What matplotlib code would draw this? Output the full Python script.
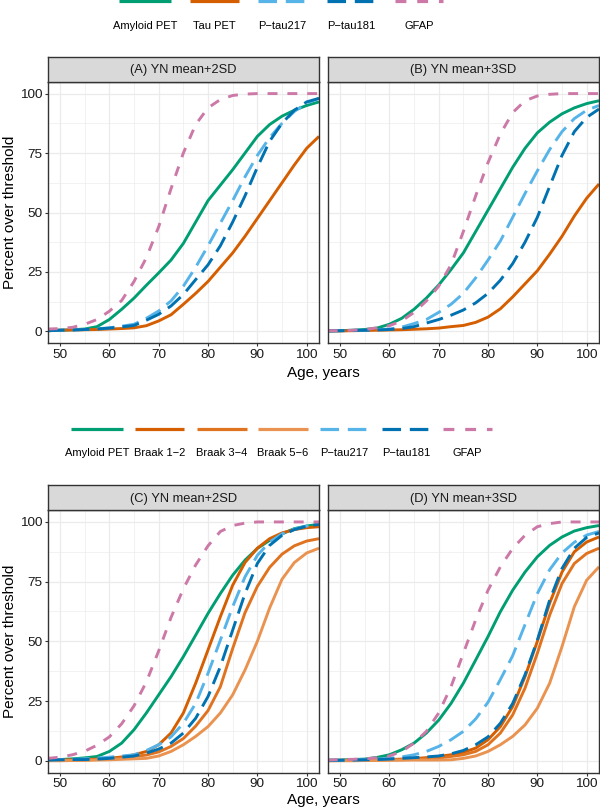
import numpy as np
import matplotlib
matplotlib.use("Agg")
import matplotlib.pyplot as plt
from matplotlib.lines import Line2D

plt.rcParams['font.family'] = ['Liberation Sans', 'DejaVu Sans']

ages = [47.5, 50, 52.5, 55, 57.5, 60, 62.5, 65, 67.5, 70, 72.5, 75, 77.5,
        80, 82.5, 85, 87.5, 90, 92.5, 95, 97.5, 100, 102.5]

# ---- (A) YN mean+2SD ----
amyloid_a = [0.3, 0.5, 0.7, 1.0, 2.0, 5.0, 9.3, 14, 19.4, 24.6, 30, 37, 46,
             55, 61.5, 68, 75, 82, 87, 90.5, 93, 95, 96.5]
tau_a = [0.3, 0.5, 0.6, 0.7, 0.8, 1.0, 1.2, 1.5, 2.4, 4.4, 7, 11.4, 16,
         21, 27, 33, 40, 47.5, 55, 62.5, 70, 77, 82]
ptau217_a = [0.3, 0.5, 0.6, 0.8, 1.1, 1.5, 2.2, 3.0, 5.5, 8.6, 12.8, 19, 27,
             36, 45.5, 55, 65, 74, 81.5, 87.5, 92.5, 96, 98]
ptau181_a = [0.3, 0.5, 0.6, 0.8, 1.0, 1.4, 1.9, 2.5, 4.7, 7.2, 10.7, 15.5, 21.8,
             28, 36, 46, 57, 69, 80, 87.5, 93, 96.5, 98]
gfap_a = [1.0, 1.2, 1.7, 3.0, 5.0, 8.5, 13, 21, 31, 44, 60, 75, 87,
          94, 97.5, 99.2, 99.8, 100, 100, 100, 100, 100, 100]

# ---- (B) YN mean+3SD ----
amyloid_b = [0.2, 0.3, 0.5, 0.8, 1.4, 3.0, 5.5, 9.3, 14, 19.5, 26, 33, 42,
             51, 60, 69, 77, 83.5, 88, 91.5, 94, 95.8, 97]
tau_b = [0.2, 0.2, 0.3, 0.4, 0.5, 0.6, 0.7, 0.9, 1.1, 1.4, 2.0, 2.5, 3.8,
         6.0, 9.5, 14.5, 20, 25.5, 32.5, 40, 48.5, 56, 62]
ptau217_b = [0.2, 0.3, 0.4, 0.5, 0.7, 1.0, 1.8, 3.3, 5, 8, 11.4, 16, 22.5,
             30, 38, 48, 58, 67.5, 76.5, 84, 89.5, 93, 95]
ptau181_b = [0.2, 0.3, 0.4, 0.5, 0.6, 0.8, 1.2, 2.0, 3.5, 5, 6.8, 9, 12,
             16, 21.5, 28.5, 37.5, 48, 61, 74, 84, 90, 93.5]
gfap_b = [0.3, 0.3, 0.5, 0.8, 1.5, 2.4, 4.4, 8, 12.8, 19, 28, 42, 57,
          71, 83, 92, 97, 99, 99.7, 100, 100, 100, 100]

# ---- (C) YN mean+2SD ----
amyloid_c = [0.3, 0.5, 0.8, 1.2, 1.8, 3.9, 7.4, 13, 20, 27.6, 35.2, 43.6, 52.6,
             61.7, 70, 77.7, 84, 88.9, 92.3, 95, 97.2, 98.3, 99]
braak12_c = [0.2, 0.3, 0.4, 0.5, 0.7, 1.0, 1.6, 2.5, 3.9, 6.7, 11.6, 20, 32.5,
             46.4, 60.3, 73.5, 83, 89, 93, 95.4, 96.8, 97.6, 98]
braak34_c = [0.1, 0.1, 0.2, 0.3, 0.5, 0.8, 1.2, 1.8, 2.4, 3.7, 6.0, 9.3, 14.5,
             21, 31, 47, 62, 73, 81, 86.5, 90, 92, 93]
braak56_c = [0.0, 0.0, 0.1, 0.2, 0.3, 0.4, 0.6, 0.8, 1.0, 2.0, 3.9, 6.7, 10.2,
             14.3, 20, 27.6, 38, 50, 64, 76, 83, 87, 89]
ptau217_c = [0.3, 0.5, 0.6, 0.8, 1.1, 1.5, 2.0, 2.5, 4.3, 6.7, 10, 15.7, 24,
             36.6, 50.5, 64.5, 77, 86, 91.6, 95, 97, 98.3, 99]
ptau181_c = [0.3, 0.4, 0.5, 0.5, 0.7, 1.0, 1.5, 2.0, 3.2, 4.9, 7.4, 11.6, 17.8,
             26.9, 39.4, 54.7, 70, 82.6, 90.2, 94.4, 96.8, 98.2, 99]
gfap_c = [1.0, 1.5, 2.5, 4.0, 6.5, 10, 15.5, 23, 33, 46, 60, 72, 82,
          90, 96, 98.5, 99.5, 100, 100, 100, 100, 100, 100]

# ---- (D) YN mean+3SD ----
amyloid_d = [0.2, 0.3, 0.5, 0.7, 1.4, 2.5, 4.6, 7.4, 11.6, 17, 24, 32.5, 42.2,
             52, 62.4, 71.4, 79, 85.4, 90.2, 93.7, 96.2, 97.6, 98.5]
braak12_d = [0.1, 0.2, 0.2, 0.3, 0.4, 0.5, 0.7, 0.9, 1.3, 1.8, 2.5, 3.5, 5.3,
             8.8, 14.3, 22.7, 35.2, 50, 66, 79, 87.5, 91.6, 93.7]
braak34_d = [0.0, 0.1, 0.1, 0.2, 0.3, 0.4, 0.5, 0.6, 0.8, 1.2, 1.8, 2.5, 3.9,
             6.7, 11.6, 19.2, 30.4, 45, 61, 74.2, 82.6, 86.8, 89]
braak56_d = [0.0, 0.0, 0.0, 0.1, 0.1, 0.2, 0.2, 0.3, 0.3, 0.3, 0.4, 1.0, 2.0,
             3.9, 6.7, 10.2, 15, 22, 32.5, 47.8, 64.5, 75.6, 81.2]
ptau217_d = [0.2, 0.2, 0.3, 0.5, 0.7, 1.0, 1.6, 2.5, 3.9, 6.0, 8.8, 12.3, 17.5,
             24.5, 34, 44, 57, 70, 80, 87, 91.5, 94.5, 96]
ptau181_d = [0.2, 0.2, 0.3, 0.4, 0.5, 0.7, 1.0, 1.3, 1.6, 2.0, 2.9, 4.3, 6.7,
             10, 15.7, 24, 36, 50.5, 67.3, 80.5, 89, 93.5, 95.4]
gfap_d = [0.3, 0.5, 0.6, 0.8, 1.3, 2.0, 3.9, 7.4, 12.3, 20, 31, 45, 59,
          71.4, 81.2, 88.9, 94.4, 98, 99.3, 100, 100, 100, 100]

# line styles per marker
GREEN, VERM, ORANGE, LORANGE = '#009E73', '#D55E00', '#E0731F', '#EA9350'
SKY, BLUE, PINK = '#56B4E9', '#0072B2', '#CC79A7'
LW = 2.1
LONG = (5.8, 2.75)
DASH = (3.4, 3.4)
styles = {
    'Amyloid PET': (GREEN, None),
    'Tau PET': (VERM, None),
    'Braak 1\u22122': (VERM, None),
    'Braak 3\u22124': (ORANGE, None),
    'Braak 5\u22126': (LORANGE, None),
    'P\u2212tau217': (SKY, LONG),
    'P\u2212tau181': (BLUE, LONG),
    'GFAP': (PINK, DASH),
}

top_names = ['Amyloid PET', 'Tau PET', 'P\u2212tau217', 'P\u2212tau181', 'GFAP']
bot_names = ['Amyloid PET', 'Braak 1\u22122', 'Braak 3\u22124', 'Braak 5\u22126',
             'P\u2212tau217', 'P\u2212tau181', 'GFAP']

panels = [
    ('(A) YN mean+2SD', top_names, [amyloid_a, tau_a, ptau217_a, ptau181_a, gfap_a]),
    ('(B) YN mean+3SD', top_names, [amyloid_b, tau_b, ptau217_b, ptau181_b, gfap_b]),
    ('(C) YN mean+2SD', bot_names, [amyloid_c, braak12_c, braak34_c, braak56_c,
                                    ptau217_c, ptau181_c, gfap_c]),
    ('(D) YN mean+3SD', bot_names, [amyloid_d, braak12_d, braak34_d, braak56_d,
                                    ptau217_d, ptau181_d, gfap_d]),
]

W, H = 600, 811
fig = plt.figure(figsize=(W / 100, H / 100), dpi=100)


def px(x0, y0, x1, y1):
    # pixel box -> figure fraction rect
    return [x0 / W, 1 - y1 / H, (x1 - x0) / W, (y1 - y0) / H]


boxes = [
    (47.7, 81.7, 319, 343.3),
    (327.7, 81.7, 599, 343.3),
    (47.7, 510, 319, 772.7),
    (327.7, 510, 599, 772.7),
]

for i, ((title, names, series), (x0, y0, x1, y1)) in enumerate(zip(panels, boxes)):
    ax = fig.add_axes(px(x0, y0, x1, y1))
    for name, vals in zip(names, series):
        col, dashes = styles[name]
        if dashes is None:
            ax.plot(ages, vals, color=col, lw=LW, solid_capstyle='butt')
        else:
            ax.plot(ages, vals, color=col, lw=LW, dashes=dashes, dash_capstyle='butt')
    ax.set_xlim(47.5, 102.5)
    ax.set_ylim(-5, 105)
    ax.set_xticks([50, 60, 70, 80, 90, 100])
    ax.set_xticks([55, 65, 75, 85, 95], minor=True)
    ax.set_yticks([0, 25, 50, 75, 100])
    ax.set_yticks([12.5, 37.5, 62.5, 87.5], minor=True)
    ax.grid(which='major', color='#EBEBEB', lw=0.9)
    ax.grid(which='minor', color='#EBEBEB', lw=0.45)
    ax.set_axisbelow(True)
    for s in ax.spines.values():
        s.set_color('#333333')
        s.set_linewidth(1.0)
    ax.tick_params(which='major', length=2.5, width=0.8, color='#333333',
                   labelsize=9.7, labelcolor='#1A1A1A', pad=1.5)
    ax.tick_params(which='minor', length=0)
    if i % 2 == 1:
        ax.tick_params(axis='y', which='major', length=0, labelleft=False)
    # facet strip
    sax = fig.add_axes(px(x0, y0 - 25, x1, y0))
    sax.set_facecolor('#D9D9D9')
    sax.set_xticks([])
    sax.set_yticks([])
    for s in sax.spines.values():
        s.set_color('#333333')
        s.set_linewidth(1.0)
    sax.text(0.5, 0.45, title, ha='center', va='center', fontsize=9.3,
             color='#1A1A1A', transform=sax.transAxes)

# axis titles
for yc, ylab in [(212.5, 373), (641, 800)]:
    fig.text(10 / W, 1 - yc / H, 'Percent over threshold', rotation=90,
             ha='center', va='center', fontsize=11)
    fig.text(323 / W, 1 - ylab / H, 'Age, years', ha='center', va='center',
             fontsize=11)


def legend(names, keys, y_line, y_text):
    for name, (k0, k1) in zip(names, keys):
        col, dashes = styles[name]
        ln = Line2D([k0 / W, k1 / W], [1 - y_line / H] * 2, transform=fig.transFigure,
                    color=col, lw=LW + 0.2, solid_capstyle='butt', dash_capstyle='butt')
        if dashes is not None:
            ln.set_dashes(dashes)
        fig.add_artist(ln)
        fig.text((k0 + k1) / 2 / W, 1 - y_text / H, name, ha='center', va='center',
                 fontsize=8.0)


legend(top_names, [(119, 171), (190, 239), (258, 307), (327, 376), (395, 443)], 1.0, 26)
legend(bot_names, [(71, 123), (135, 184), (197, 247), (258, 308), (320, 369),
                   (382, 431), (443, 492)], 429, 453)

fig.savefig('out.png', dpi=100)
